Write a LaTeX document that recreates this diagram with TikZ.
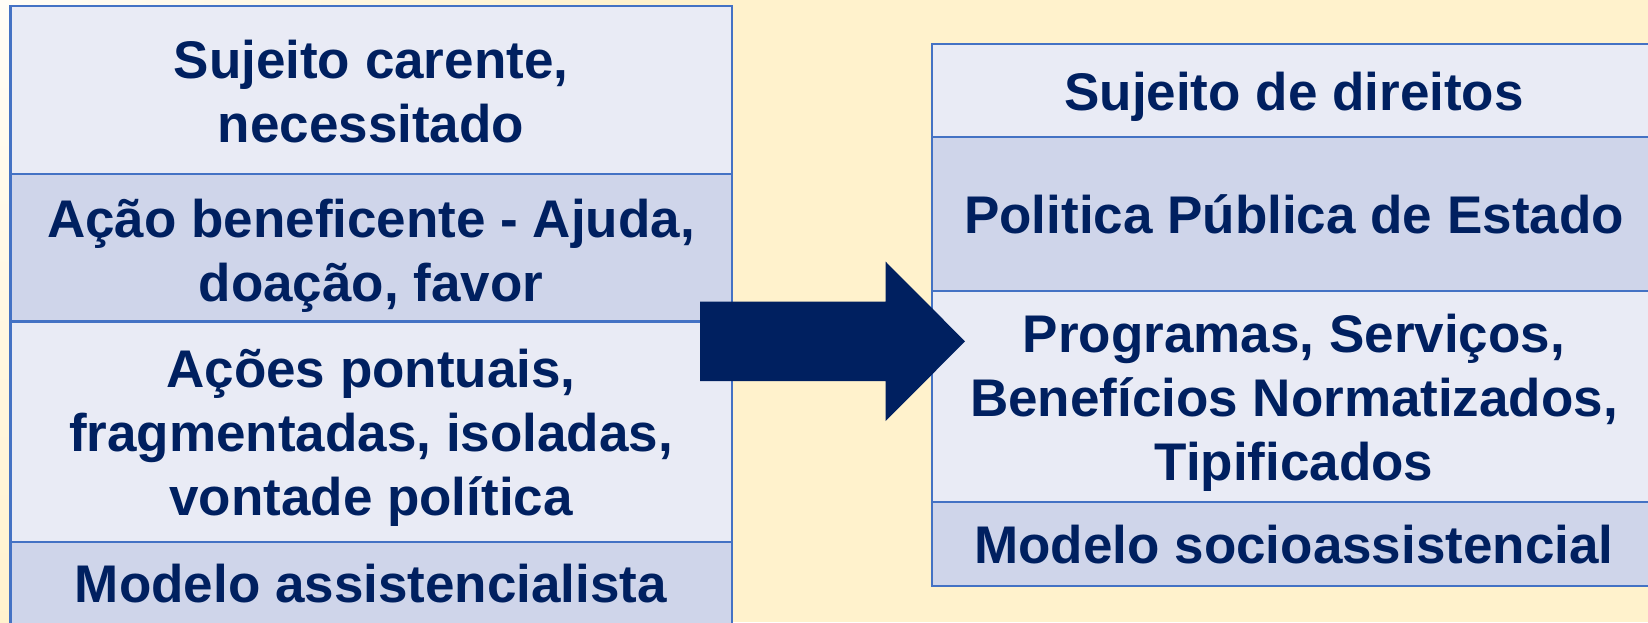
\documentclass[tikz,border=0pt]{standalone}
\usepackage{fontspec}
\setmainfont{Liberation Sans}
\definecolor{cream}{HTML}{FFF2CC}
\definecolor{creamlight}{HTML}{FFFDF7}
\definecolor{rowlight}{HTML}{E9EBF5}
\definecolor{rowdark}{HTML}{CFD5EA}
\definecolor{tblblue}{HTML}{4472C4}
\definecolor{navy}{HTML}{002060}
\newcommand\ls{\rule[-0.25em]{0pt}{1.1em}}
\begin{document}
\begin{tikzpicture}[x=1pt,y=-1pt,
  tblline/.style={draw=tblblue,line width=2.8pt},
  lightcell/.style={tblline,fill=rowlight},
  darkcell/.style={tblline,fill=rowdark},
  celltext/.style={font=\bfseries\fontsize{53}{64}\selectfont,text=navy,align=center,inner sep=0pt}]
\useasboundingbox (0,0) rectangle (1648,622);
\clip (0,0) rectangle (1648,622);
\fill[cream] (0,0) rectangle (1648,622);
\shade[inner color=creamlight,outer color=cream] (0,0) circle[radius=640];
% left table
\draw[lightcell] (10.5,6) rectangle (732,174);
\draw[darkcell] (10.5,174) rectangle (732,321.5);
\draw[lightcell] (10.5,321.5) rectangle (732,542);
\draw[darkcell] (10.5,542) rectangle (732,645);
% right table
\draw[lightcell] (932,44) rectangle (1665,137);
\draw[darkcell] (932,137) rectangle (1665,291);
\draw[lightcell] (932,291) rectangle (1665,502);
\draw[darkcell] (932,502) rectangle (1665,586);
% left texts
\node[celltext] (l1) at (371,95) {\ls Sujeito carente,\\\ls necessitado};
\node[celltext] (l2) at (371,254) {\ls Ação beneficente - Ajuda,\\\ls doação, favor};
\node[celltext] (l3) at (371,436) {\ls Ações pontuais,\\\ls fragmentadas, isoladas,\\\ls vontade política};
\node[celltext] (l4) at (371,587) {\ls Modelo assistencialista};
% right texts
\node[celltext] (r1) at (1294,95) {\ls Sujeito de direitos};
\node[celltext] (r2) at (1294,218) {\ls Politica Pública de Estado};
\node[celltext] (r3) at (1294,400.5) {\ls Programas, Serviços,\\\ls Benefícios Normatizados,\\\ls Tipificados};
\node[celltext] (r4) at (1294,548) {\ls Modelo socioassistencial};
% arrow
\fill[navy] (700,301.7) -- (885.7,301.7) -- (885.7,261.7) -- (965,341.35) -- (885.7,421) -- (885.7,381) -- (700,381) -- cycle;
\end{tikzpicture}
\end{document}
